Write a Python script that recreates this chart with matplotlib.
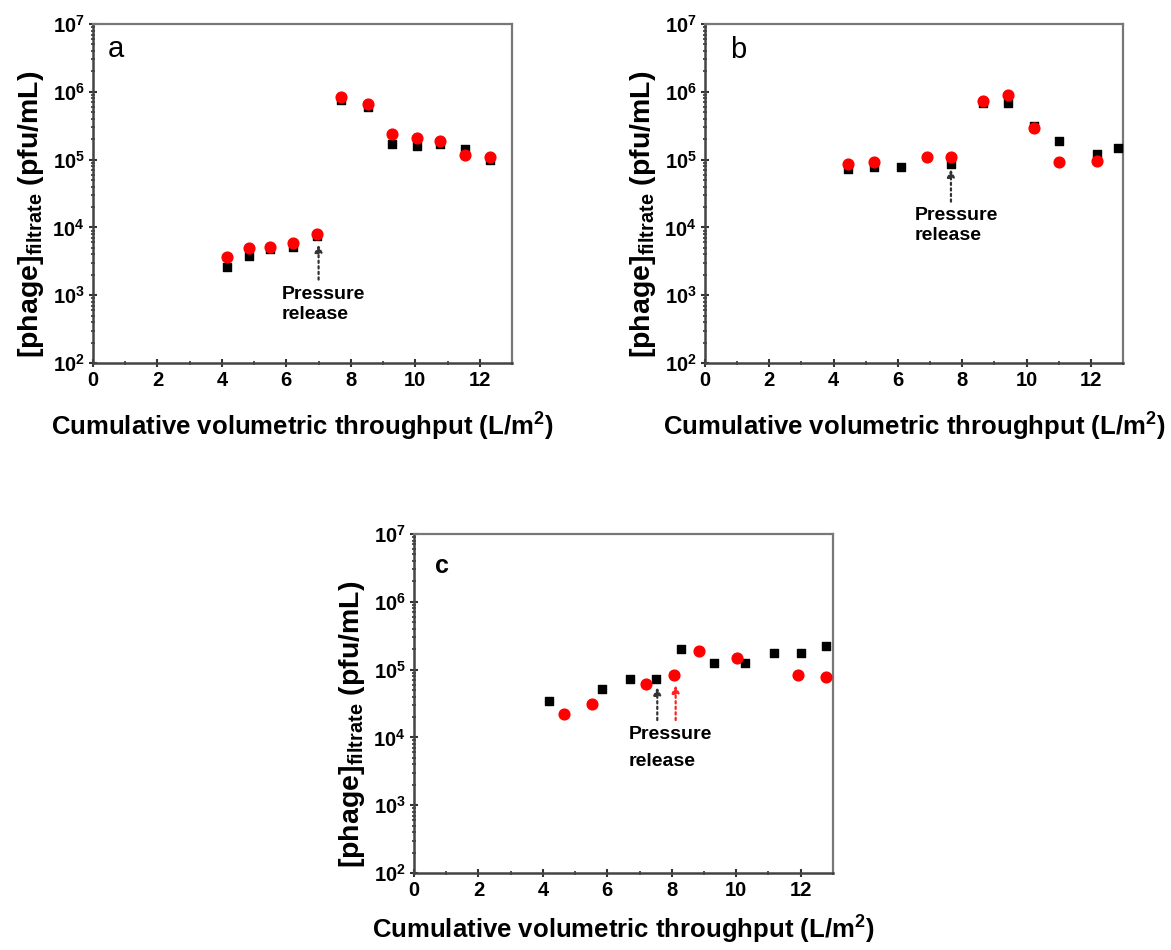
import numpy as np
import matplotlib
matplotlib.use("Agg")
import matplotlib.pyplot as plt
from matplotlib.ticker import FixedLocator, MultipleLocator, LogLocator, NullFormatter

plt.rcParams['font.family'] = ['Liberation Sans', 'DejaVu Sans']
plt.rcParams['font.weight'] = 'bold'
plt.rcParams['mathtext.fontset'] = 'custom'
plt.rcParams['mathtext.rm'] = 'Liberation Sans:bold'
plt.rcParams['mathtext.bf'] = 'Liberation Sans:bold'
plt.rcParams['mathtext.it'] = 'Liberation Sans:bold'

# panel a
a_x = [4.17, 4.84, 5.49, 6.21, 6.96, 7.69, 8.52, 9.29, 10.04, 10.78, 11.55, 12.33]
a_black = [2.65e3, 3.8e3, 4.8e3, 5.2e3, 7.4e3, 7.6e5, 5.9e5, 1.7e5, 1.6e5, 1.7e5, 1.42e5, 1.0e5]
a_red = [3.7e3, 4.9e3, 5.2e3, 5.8e3, 7.9e3, 8.5e5, 6.6e5, 2.4e5, 2.1e5, 1.9e5, 1.16e5, 1.09e5]

# panel b
b_x_black = [4.45, 5.26, 6.09, 7.65, 8.64, 9.43, 10.24, 11.01, 12.18, 12.86]
b_black = [7.3e4, 7.9e4, 7.9e4, 8.6e4, 6.9e5, 6.8e5, 3.1e5, 1.9e5, 1.2e5, 1.5e5]
b_x_red = [4.45, 5.26, 6.89, 7.65, 8.64, 9.43, 10.24, 11.01, 12.18]
b_red = [8.7e4, 9.1e4, 1.11e5, 1.11e5, 7.3e5, 9.1e5, 2.9e5, 9.1e4, 9.6e4]

# panel c
c_x_black = [4.19, 5.84, 6.70, 7.50, 8.30, 9.31, 10.27, 11.17, 12.01, 12.78]
c_black = [3.4e4, 5.2e4, 7.2e4, 7.2e4, 2.0e5, 1.24e5, 1.24e5, 1.75e5, 1.75e5, 2.25e5]
c_x_red = [4.65, 5.53, 7.20, 8.08, 8.84, 10.01, 11.92, 12.80]
c_red = [2.2e4, 3.1e4, 6.2e4, 8.2e4, 1.85e5, 1.47e5, 8.2e4, 7.9e4]

x_ticks = [0, 2, 4, 6, 8, 10, 12]
y_ticks = [1e2, 1e3, 1e4, 1e5, 1e6, 1e7]
y_labels = [r'$\mathbf{10^{%d}}$' % int(np.log10(v)) for v in y_ticks]

fig = plt.figure(figsize=(11.71, 9.5), dpi=100)
ax_a = fig.add_axes([0.0794, 0.6179, 0.3578, 0.3568])
ax_b = fig.add_axes([0.602, 0.6179, 0.357, 0.3568])
ax_c = fig.add_axes([0.3535, 0.0811, 0.3578, 0.3568])


def style(ax, xpad=15):
    ax.set_yscale('log')
    ax.set_xlim(0, 13)
    ax.set_ylim(1e2, 1e7)
    ax.xaxis.set_major_locator(FixedLocator(x_ticks))
    ax.xaxis.set_minor_locator(MultipleLocator(1))
    ax.set_xticklabels([str(t) for t in x_ticks])
    ax.yaxis.set_major_locator(FixedLocator(y_ticks))
    ax.set_yticklabels(y_labels)
    ax.yaxis.set_minor_locator(LogLocator(base=10, subs=np.arange(2, 10)))
    ax.yaxis.set_minor_formatter(NullFormatter())
    ax.tick_params(which='major', direction='inout', length=6, width=1.5,
                   labelsize=14.5, pad=3, colors='#333333', labelcolor='black')
    ax.tick_params(which='minor', direction='inout', length=3, width=1.2, colors='#333333')
    ax.tick_params(top=False, right=False, which='both')
    for side in ['left', 'bottom']:
        ax.spines[side].set_color('#444444')
        ax.spines[side].set_linewidth(1.8)
    for side in ['top', 'right']:
        ax.spines[side].set_color('#777777')
        ax.spines[side].set_linewidth(1.6)
    for lab in ax.get_xticklabels():
        lab.set_fontweight('bold')
    ax.set_xlabel(r'Cumulative volumetric throughput (L/m$^{\mathbf{2}}$)',
                  fontsize=18.5, fontweight='bold', labelpad=xpad)
    ax.set_ylabel(r'[phage]$_{\mathbf{filtrate}}$ (pfu/mL)',
                  fontsize=20.5, fontweight='bold')
    ax.yaxis.set_label_coords(-0.113, 0.44)


style(ax_a)
style(ax_b)
style(ax_c, xpad=10)

arrow_k = dict(arrowstyle='-|>', linestyle=(0, (1, 1.5)), color='#333333',
               lw=1.6, mutation_scale=11, shrinkA=0, shrinkB=0)
arrow_r = dict(arrow_k, color='#ff2020')

# a
ax_a.scatter(a_x, a_black, marker='s', s=38, color='black', zorder=3)
ax_a.scatter(a_x, a_red, marker='o', s=60, color='#ff0000', zorder=4)
ax_a.annotate('', xy=(7.0, 5.6e3), xytext=(7.0, 1.7e3), arrowprops=arrow_k)
ax_a.text(5.85, 1.35e3, 'Pressure\nrelease', fontsize=14, fontweight='bold', va='top', ha='left')
ax_a.text(0.036, 0.903, 'a', transform=ax_a.transAxes, fontsize=21, fontweight='normal')

# b
ax_b.scatter(b_x_black, b_black, marker='s', s=38, color='black', zorder=3)
ax_b.scatter(b_x_red, b_red, marker='o', s=60, color='#ff0000', zorder=4)
ax_b.annotate('', xy=(7.65, 7.2e4), xytext=(7.65, 2.4e4), arrowprops=arrow_k)
ax_b.text(6.52, 2.0e4, 'Pressure\nrelease', fontsize=14, fontweight='bold', va='top', ha='left')
ax_b.text(0.06, 0.9, 'b', transform=ax_b.transAxes, fontsize=21, fontweight='normal')

# c
ax_c.scatter(c_x_black, c_black, marker='s', s=38, color='black', zorder=3)
ax_c.scatter(c_x_red, c_red, marker='o', s=60, color='#ff0000', zorder=4)
ax_c.annotate('', xy=(7.55, 5.5e4), xytext=(7.55, 1.8e4), arrowprops=arrow_k)
ax_c.annotate('', xy=(8.12, 5.9e4), xytext=(8.12, 1.8e4), arrowprops=arrow_r)
ax_c.text(6.65, 1.45e4, 'Pressure\nrelease', fontsize=14, fontweight='bold', va='top', ha='left',
          linespacing=1.7)
ax_c.text(0.05, 0.885, 'c', transform=ax_c.transAxes, fontsize=18, fontweight='bold')

fig.savefig('out.png', dpi=100)
